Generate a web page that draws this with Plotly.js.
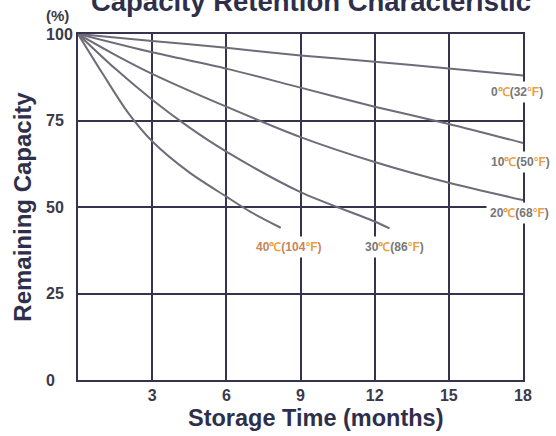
<!DOCTYPE html>
<html>
<head>
<meta charset="utf-8">
<script src="https://cdn.plot.ly/plotly-3.0.1.min.js"></script>
<style>html,body{margin:0;padding:0;background:#fff;}#chart{width:556px;height:436px;}</style>
</head>
<body>
<div id="chart"></div>
<script>
// Storage time (months) and remaining capacity (%) per temperature
const months0C = [0, 3, 6, 9, 12, 15, 18];
const cap0C = [100, 98, 96, 93.8, 92, 90, 88];
const months10C = [0, 3, 6, 9, 12, 15, 18];
const cap10C = [100, 94.7, 90, 84.5, 79, 74, 68.5];
const months20C = [0, 1.5, 3, 6, 9, 12, 15, 18];
const cap20C = [100, 94, 88.5, 79, 70.2, 63, 57, 52];
const months30C = [0, 1.5, 3, 4.5, 6, 9, 12, 12.6];
const cap30C = [100, 90, 81, 73, 66, 54.3, 45.8, 43.8];
const months40C = [0, 1, 2, 3, 4.5, 6, 7, 8.2];
const cap40C = [100, 88.5, 77.5, 69, 60, 53, 48.5, 44];

const xTickVals = [3, 6, 9, 12, 15, 18];
const xTickText = ["3", "6", "9", "12", "15", "18"];
const yTickVals = [0, 25, 50, 75, 100];
const yTickText = ["0\u2007\u2007", "25\u2007", "50\u2007", "75\u2007", "100"];

const seriesLabels = ["0", "10", "20", "30", "40"];
const seriesF = ["32", "50", "68", "86", "104"];

const curveColor = "#6f6b78";
const gridColor = "#34344e";
const textDark = "#3a3a48";
const titleColor = "#2e2f4a";
const orange = "#e9a043";

function mk(x, y, name) {
  return {x: x, y: y, name: name, type: "scatter", mode: "lines",
    line: {color: curveColor, width: 2, shape: "spline", smoothing: 0.8},
    hoverinfo: "x+y"};
}
const data = [
  mk(months0C, cap0C, "0C"),
  mk(months10C, cap10C, "10C"),
  mk(months20C, cap20C, "20C"),
  mk(months30C, cap30C, "30C"),
  mk(months40C, cap40C, "40C")
];

function lbl(i, numColor) {
  return '<span style="color:' + numColor + '">' + seriesLabels[i] + '</span>' +
    '<span style="color:' + orange + '">\u2103</span>' +
    '<span style="color:' + numColor + '">(' + seriesF[i] + '</span>' +
    '<span style="color:' + orange + '">\u00b0F</span>' +
    '<span style="color:' + numColor + '">)</span>';
}
const labelPos = [
  {x: 17.75, y: 83.2},
  {x: 17.9, y: 63},
  {x: 17.85, y: 48.3},
  {x: 12.8, y: 38.4},
  {x: 8.54, y: 38.4}
];
const numColors = ["#777777", "#777777", "#777777", "#777777", "#c8845c"];
const annotations = labelPos.map((p, i) => ({
  x: p.x, y: p.y, xref: "x", yref: "y", text: lbl(i, numColors[i]),
  showarrow: false, bgcolor: "#ffffff", borderpad: 3,
  font: {family: "Liberation Sans, Arial, sans-serif", size: 12, weight: "bold"}
}));
annotations.push({
  x: (57 - 78) / (523 - 78), y: 1 + (34 - 15) / (380 - 34),
  xref: "paper", yref: "paper", xanchor: "center", yanchor: "middle",
  text: "(%)", showarrow: false,
  font: {family: "Liberation Sans, Arial, sans-serif", size: 15, color: textDark, weight: "bold"}
});
// x-axis title (placed slightly right of centre, as in the reference)
annotations.push({
  x: (315 - 78) / (523 - 78), y: -(418 - 380) / (380 - 34),
  xref: "paper", yref: "paper", xanchor: "center", yanchor: "middle",
  text: "Storage Time (months)", showarrow: false,
  font: {family: "Liberation Sans, Arial, sans-serif", size: 23.5, color: titleColor, weight: "bold"}
});

const layout = {
  width: 556, height: 436,
  margin: {l: 78, r: 33, t: 34, b: 56},
  paper_bgcolor: "#ffffff", plot_bgcolor: "#ffffff",
  showlegend: false,
  font: {family: "Liberation Sans, Arial, sans-serif", color: textDark},
  title: {
    text: "Capacity Retention Characteristic",
    font: {size: 27.5, color: titleColor, weight: "bold"},
    x: 311 / 556, xanchor: "center",
    xref: "container", yref: "container",
    y: 1 - 1.5 / 436, yanchor: "middle"
  },
  xaxis: {
    range: [0, 18], tickvals: xTickVals, ticktext: xTickText,
    showgrid: true, gridcolor: gridColor, gridwidth: 2,
    showline: true, linecolor: gridColor, linewidth: 2, mirror: true,
    zeroline: false, ticks: "",
    tickfont: {size: 16, color: textDark, weight: "bold"}
  },
  yaxis: {
    range: [0, 100], tickvals: yTickVals, ticktext: yTickText,
    showgrid: true, gridcolor: gridColor, gridwidth: 2,
    showline: true, linecolor: gridColor, linewidth: 2, mirror: true,
    zeroline: false, ticks: "",
    tickfont: {size: 16, color: textDark, weight: "bold"},
    title: {text: "Remaining Capacity", font: {size: 24, color: titleColor, weight: "bold"}, standoff: 8}
  },
  annotations: annotations
};

Plotly.newPlot("chart", data, layout, {staticPlot: true, displayModeBar: false});
</script>
</body>
</html>
